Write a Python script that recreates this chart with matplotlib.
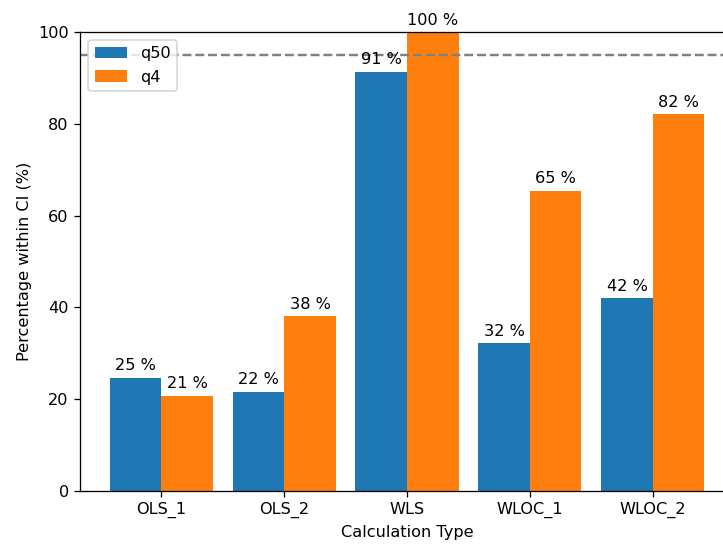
import matplotlib.pyplot as plt
import numpy as np

calc_types = ['OLS_1', 'OLS_2', 'WLS', 'WLOC_1', 'WLOC_2']
q50 = [24.7, 21.6, 91.3, 32.2, 42.0]
q4 = [20.7, 38.1, 99.8, 65.4, 82.1]
target = 95

x = np.arange(len(calc_types))
width = 0.42

fig = plt.figure(figsize=(723 / 116, 544 / 116), dpi=116)
# axes run a little past the right edge of the figure
ax = fig.add_axes([0.1107, 0.0974, 0.9046, 0.8438])

bars1 = ax.bar(x - width / 2, q50, width, label='q50', color='tab:blue')
bars2 = ax.bar(x + width / 2, q4, width, label='q4', color='tab:orange')

for bars, vals in [(bars1, q50), (bars2, q4)]:
    for b, v in zip(bars, vals):
        ax.text(b.get_x() + b.get_width() / 2, v + 1, f'{v:.0f} %',
                ha='center', va='bottom')

ax.axhline(target, color='gray', linestyle='--')

ax.set_xticks(x)
ax.set_xticklabels(calc_types)
ax.set_ylim(0, 100)
ax.set_xlabel('Calculation Type')
ax.set_ylabel('Percentage within CI (%)')
ax.legend(loc='upper left')
ax.spines['right'].set_visible(False)

plt.savefig('out.png', dpi=116)
